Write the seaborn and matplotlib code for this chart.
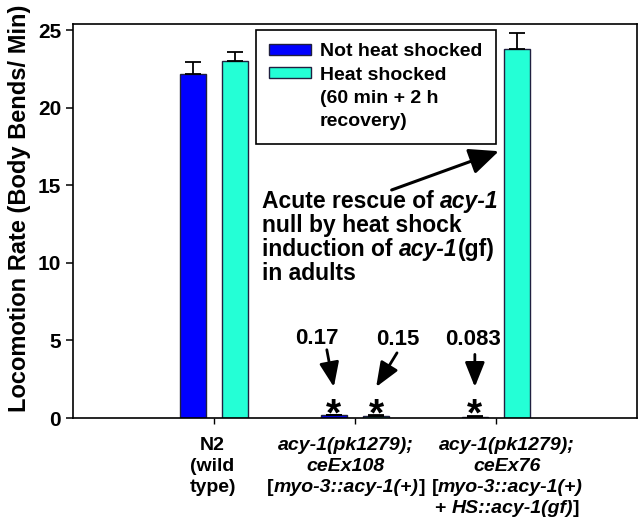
import matplotlib
matplotlib.use("Agg")
import matplotlib.pyplot as plt
import matplotlib.transforms as mtransforms
from matplotlib.patches import Patch
import seaborn as sns
import pandas as pd
import numpy as np

# ---------------- data ----------------
groups = ["N2", "acy-1(pk1279); ceEx108", "acy-1(pk1279); ceEx76"]
conditions = ["Not heat shocked", "Heat shocked"]
not_hs = [22.2, 0.17, 0.083]
not_hs_err = [0.75, 0.04, 0.03]
hs = [23.0, 0.15, 23.8]
hs_err = [0.6, 0.03, 1.05]
small_labels = ["0.17", "0.15", "0.083"]
y_ticks = [0, 5, 10, 15, 20, 25]

legend_labels = ["Not heat shocked", "Heat shocked", "(60 min + 2 h", "recovery)"]
ylabel = "Locomotion Rate (Body Bends/ Min)"

tick_lines = [
    [[("N2", "normal")], [("(wild", "normal")], [("type)", "normal")]],
    [[("acy-1(pk1279);", "italic")], [("ceEx108", "italic")],
     [("[", "normal"), ("myo-3::acy-1(+)", "italic"), ("]", "normal")]],
    [[("acy-1(pk1279);", "italic")], [("ceEx76", "italic")],
     [("[", "normal"), ("myo-3::acy-1(+)", "italic")],
     [("+ ", "normal"), ("HS::acy-1(gf)", "italic"), ("]", "normal")]],
]
note_lines = [
    [("Acute rescue of ", "normal"), ("acy-1", "italic")],
    [("null by heat shock", "normal")],
    [("induction of ", "normal"), ("acy-1", "italic"), ("(gf)", "normal")],
    [("in adults", "normal")],
]

BLUE = "#0000ff"
TEAL = "#24ffd6"
EDGE = "#202040"
FONT = ["Liberation Sans", "DejaVu Sans"]

sns.set_style("ticks")
plt.rcParams["font.family"] = FONT
plt.rcParams["font.weight"] = "bold"
for k in ["text.color", "axes.labelcolor", "xtick.color", "ytick.color", "axes.edgecolor"]:
    plt.rcParams[k] = "black"

df = pd.DataFrame({
    "group": groups * 2,
    "condition": [conditions[0]] * 3 + [conditions[1]] * 3,
    "rate": not_hs + hs,
})

fig = plt.figure(figsize=(6.4, 5.22), dpi=100)
W, H = 640, 522
ax = fig.add_axes([73 / W, 1 - 418 / H, (637 - 73) / W, (418 - 24) / H])

sns.barplot(data=df, x="group", y="rate", hue="condition", palette=[BLUE, TEAL],
            saturation=1, width=0.6, gap=0.37, edgecolor=EDGE, linewidth=1.0,
            errorbar=None, legend=False, ax=ax, zorder=2)

centers = []
for cont, vals, errs in zip(ax.containers, [not_hs, hs], [not_hs_err, hs_err]):
    xs = [p.get_x() + p.get_width() / 2 for p in cont]
    centers.append(xs)
    ax.errorbar(xs, vals, yerr=[np.zeros(len(errs)), errs], fmt="none",
                ecolor="black", elinewidth=1.3, capsize=6, capthick=1.3, zorder=3)

ax.set_xlim(-1, 3)
ax.set_ylim(0, 25.4)
ax.set_yticks(y_ticks)
ax.set_yticklabels([str(t) for t in y_ticks], fontsize=15, fontweight="bold", color="black")
ax.set_xticks(range(len(groups)))
ax.set_xticklabels([""] * len(groups))
ax.set_xlabel("")
ax.set_ylabel(ylabel, fontsize=17, fontweight="bold", color="black")
ax.yaxis.set_label_coords(-0.075, 0.533)
ax.tick_params(axis="y", length=5, width=1.1, pad=3.5, color="black")
ax.tick_params(axis="x", length=4, width=1.0, color="black")
for s in ax.spines.values():
    s.set_visible(True)
    s.set_linewidth(1.2)
    s.set_color("black")

# legend
handles = [Patch(facecolor=BLUE, edgecolor=EDGE, linewidth=1.0),
           Patch(facecolor=TEAL, edgecolor=EDGE, linewidth=1.0),
           Patch(facecolor="none", edgecolor="none"),
           Patch(facecolor="none", edgecolor="none")]
leg = ax.legend(handles, legend_labels, loc="upper left",
                bbox_to_anchor=(256 / W, 1 - 30 / H), bbox_transform=fig.transFigure,
                borderaxespad=0, fancybox=False, framealpha=1, edgecolor="black",
                prop={"size": 14, "weight": "bold", "family": FONT},
                handlelength=2.16, handleheight=0.45, handletextpad=0.45,
                labelspacing=0.33, borderpad=0.68, labelcolor="black")
leg.get_frame().set_linewidth(1.2)

# rich text helper
renderer = fig.canvas.get_renderer()


def seg_width(s, style, size):
    t = fig.text(0, 0, "|" + s + "|", fontsize=size, fontweight="bold",
                 fontstyle=style, family=FONT)
    w1 = t.get_window_extent(renderer).width
    t.set_text("||")
    w2 = t.get_window_extent(renderer).width
    t.remove()
    return w1 - w2


def rich_line(x, y, segs, trans, size, ha="center"):
    widths = [seg_width(s, st, size) for s, st in segs]
    total = sum(widths)
    dx = -total / 2 if ha == "center" else 0.0
    for (s, st), w in zip(segs, widths):
        tr = trans + mtransforms.ScaledTranslation(dx / fig.dpi, 0, fig.dpi_scale_trans)
        ax.text(x, y, s, transform=tr, fontsize=size, fontweight="bold", color="black",
                fontstyle=st, family=FONT, ha="left", va="baseline", clip_on=False)
        dx += w


# x tick labels (placed by hand under each group, as in the original)
tick_trans = mtransforms.blended_transform_factory(ax.transData, fig.transFigure)
label_x = [-0.01, 0.935, 2.08]
baselines_px = [450, 471, 492, 513]
for gi, lines in enumerate(tick_lines):
    for li, segs in enumerate(lines):
        rich_line(label_x[gi], 1 - baselines_px[li] / H, segs, tick_trans, 14, "center")

# note text
note_baselines = [13.55, 12.0, 10.45, 8.9]
for li, segs in enumerate(note_lines):
    rich_line(0.34, note_baselines[li], segs, ax.transData, 16.5, "left")

# big arrow
ax.annotate("", xy=(2.02, 17.2), xytext=(1.26, 14.7),
            arrowprops=dict(arrowstyle="-|>,head_length=0.9,head_width=0.4",
                            color="black", lw=2.2, mutation_scale=20, shrinkA=0, shrinkB=0))

# small value labels with arrows and asterisks
star_x = [centers[0][1], centers[1][1], centers[0][2]]
label_pos = [(0.73, 5.15), (1.305, 5.03), (1.837, 5.03)]
arrow_start = [(0.80, 4.4), (1.298, 4.2), (star_x[2], 4.1)]
arrow_end = [(star_x[0], 2.0), (star_x[1], 2.0), (star_x[2], 2.0)]
for lab, (lx, ly), st, en in zip(small_labels, label_pos, arrow_start, arrow_end):
    ax.text(lx, ly, lab, fontsize=16, fontweight="bold", ha="center", va="center",
            color="black")
    ax.annotate("", xy=en, xytext=st,
                arrowprops=dict(arrowstyle="-|>,head_length=1.0,head_width=0.4",
                                color="black", lw=2.0, mutation_scale=15,
                                shrinkA=0, shrinkB=0))
for sx in star_x:
    ax.text(sx, -0.5, "*", fontsize=28, fontweight="bold", ha="center",
            va="baseline", clip_on=False, color="black")

fig.savefig("out.png", dpi=100)
